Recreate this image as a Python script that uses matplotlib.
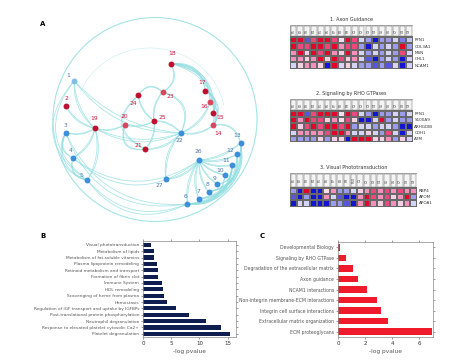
import numpy as np
import matplotlib
matplotlib.use('Agg')
import matplotlib.pyplot as plt
from matplotlib.patches import FancyArrowPatch, Circle, Arc, Rectangle
from matplotlib.colors import LinearSegmentedColormap

# ---------------- data ----------------
# network (panel A)
red_nodes = [2, 14, 15, 16, 17, 18, 19, 20, 21, 23, 24, 25]
light_nodes = [1, 14, 16, 20, 23]
edges = [(1, 19), (2, 19), (3, 19), (4, 19), (5, 19), (1, 5), (3, 4), (3, 5), (4, 5),
         (19, 20), (20, 25), (24, 25), (23, 25), (18, 23), (21, 25), (22, 25),
         (24, 21), (23, 22), (24, 23), (20, 21), (19, 22), (1, 22),
         (18, 17), (18, 16), (18, 15), (18, 14), (17, 15), (16, 14), (17, 14), (15, 14),
         (22, 14), (22, 16), (22, 27), (21, 22), (27, 26), (14, 13),
         (26, 6), (26, 7), (26, 8), (26, 9), (26, 10), (26, 11), (26, 12), (26, 13),
         (6, 13), (7, 13), (8, 12), (9, 11), (6, 10), (7, 11), (8, 13), (6, 12), (6, 11),
         (4, 26), (5, 6), (3, 6)]

# heatmaps
hm_titles = ['1. Axon Guidance', '2. Signaling by RHO GTPases', '3. Visual Phototransduction']
hm_genes = [['PFN1', 'COL3A1', 'MSN', 'CHL1', 'NCAM1'],
            ['PFN1', 'S100A9', 'ARHGDIB', 'CDH1', 'A2M'],
            ['RBP4', 'APOM', 'APOA1']]
hm1 = [[2, 2, -1.5, 1.5, 2, 2, 1.5, 0.3, 2, 1.5, -0.5, -1, -2, -1, -1, -0.5, -1.2, -0.7],
       [2, 1.5, 1.5, 2, 2, 1.5, 2, 1, 1.5, 1.5, -1, -2, -0.5, -1, -0.5, -1, 2, -1],
       [1, 2, 0.5, 2, 1.5, 2, 1, 0.5, 2, 1, -0.5, -1, -0.5, -1, -0.5, -1, 1.5, -0.5],
       [1, 1, 0.5, 1, 2, 0.5, 2, 1.5, 0.5, 1, -0.5, -1.5, -2, -1, -0.5, -1, -2, -0.5],
       [-0.5, 0.5, 1, 1, 0.5, -2, 2, -0.5, 0.5, -0.5, -1, -1, -1.5, -1, -1.5, -0.5, -2, -0.5]]
hm2 = [[2, 2, -1.5, 1.5, 2, 2, 2, 0.3, 2, 1.5, -0.5, -1, -2, -1, -1, -0.5, -1, -0.5],
       [2, 1, 2, 1.5, 1.5, 0.5, 1, 0.3, 1.5, 0.5, -2, -2, -0.5, 2, -1, -0.5, -1, -1],
       [2, 0.5, 1.5, 2, 1.5, 2, 2, 1.5, 2, -1, -0.5, -0.5, -1, -0.5, -0.5, -1, -2, -2],
       [-0.5, 1, 1, 1, 1, 1.5, 2, 2, 1, -0.5, -0.5, 0.5, -0.5, -1, 1.5, -0.5, -2, -0.5],
       [-1, -1, -1, -1, 0.5, -1, 0.5, 0.5, -2, 2, 2, 2, 0.5, 0.5, 1, -1, 0.5, -0.5]]
hm3 = [[-1, -2, 2, -2, -2, 0.3, 1, -1, -1, -0.5, 0.5, 1, 1.5, 1, 1.5, 1, 1.5, 1, 1],
       [-1.5, -2, -1, -2, -2, 1, -0.5, -1.5, -2, -2, 1, 2, 1.5, 1, 1.5, 0.5, 1, 2, -1],
       [-2, -0.5, -0.5, -2, -2, -2, -1, -1, -1.5, -2, 1, 2, 1, 0.5, 1.5, 1, 0.5, 1, -0.5]]

# panel B
b_terms = ['Platelet degranulation', 'Response to elevated platelet cytosolic Ca2+',
           'Neutrophil degranulation', 'Post-translational protein phosphorylation',
           'Regulation of IGF transport and uptake by IGFBPs', 'Hemostasis',
           'Scavenging of heme from plasma', 'HDL remodeling', 'Immune System',
           'Formation of fibrin clot', 'Retinoid metabolism and transport',
           'Plasma lipoprotein remodeling', 'Metabolism of fat-soluble vitamins',
           'Metabolism of lipids', 'Visual phototransduction']
b_vals = [15.5, 13.9, 11.2, 8.1, 5.8, 4.2, 3.7, 3.5, 3.4, 2.7, 2.6, 2.4, 1.85, 1.85, 1.4]

# panel C
c_terms = ['ECM proteoglycans', 'Extracellular matrix organization',
           'Integrin cell surface interactions', 'Non-integrin membrane-ECM interactions',
           'NCAM1 interactions', 'Axon guidance', 'Degradation of the extracellular matrix',
           'Signaling by RHO GTPase', 'Developmental Biology']
c_vals = [6.9, 3.7, 3.15, 2.85, 2.15, 1.45, 1.1, 0.55, 0.1]

# ---------------- layout ----------------
W, H = 474, 364
fig = plt.figure(figsize=(W / 100, H / 100), dpi=100)
plt.rcParams['font.family'] = 'DejaVu Sans'


def px_axes(x0, y0, x1, y1):
    return fig.add_axes([x0 / W, 1 - y1 / H, (x1 - x0) / W, (y1 - y0) / H])


# node layout in pixel space of panel A
pos = {1: (74.3, 80.7), 2: (66, 106), 3: (65.7, 132.7), 4: (72.7, 158), 5: (87.3, 180.3),
       6: (187.3, 204), 7: (198.5, 198.7), 8: (208.5, 192), 9: (217.3, 184.2),
       10: (225.2, 175), 11: (232, 165.2), 12: (237, 154.3), 13: (240.5, 142.7),
       14: (213.3, 125.3), 15: (213.3, 113.3), 16: (210.3, 101.7), 17: (205.3, 90.7),
       18: (171, 63.7), 19: (95, 128.3), 20: (124.7, 124.7), 21: (145.3, 149.3),
       22: (181, 133), 23: (162.7, 92), 24: (138.3, 95.3), 25: (154, 120.7),
       26: (199, 160.2), 27: (166, 179.3)}
lab_off = {1: (-6, -5), 2: (0, -8), 3: (0, -7), 4: (-2, -7), 5: (-6, -5), 6: (-2, -7),
           7: (0, -7), 8: (-1, -7), 9: (-3, -6), 10: (-5, -5), 11: (-6, -5), 12: (-7, -4),
           13: (-3, -7), 14: (5, 8), 15: (7, 4), 16: (-6, 5), 17: (-3, -8), 18: (1, -10),
           19: (-1, -10), 20: (0, -8), 21: (-7, -4), 22: (-2, 8), 23: (8, 5), 24: (-5, 8),
           25: (8, -3), 26: (-1, -9), 27: (-7, 6)}


def curvature(a, b):
    if (a, b) in [(24, 21), (20, 21)]:
        return 0.7
    if (a, b) in [(23, 22), (24, 23)]:
        return -0.6
    if a == 18 or (a in (14, 15, 16, 17) and b in (13, 14, 15)):
        return -0.5
    if a in range(6, 14) and b in range(6, 14):
        return 0.45
    if a == 26:
        return 0.15
    if (a, b) in [(4, 26), (5, 6), (3, 6)]:
        return 0.35
    if (a, b) in [(1, 5), (3, 5), (3, 4), (4, 5)]:
        return 0.5
    return 0.2


axA = px_axes(0, 0, 260, 230)
axA.set_xlim(0, 260)
axA.set_ylim(230, 0)
axA.axis('off')
edge_col = '#8fdde0'
axA.add_patch(Circle((155, 119.5), 102, fill=False, ec=edge_col, lw=0.8, alpha=0.8))
axA.add_patch(Arc((150, 118), 150, 140, theta1=200, theta2=350, ec=edge_col, lw=0.4, alpha=0.5))
for a, b in edges:
    rad = curvature(a, b)
    for k in (0.0, 0.06):
        axA.add_patch(FancyArrowPatch(pos[a], pos[b], connectionstyle=f'arc3,rad={rad + k}',
                                      arrowstyle='-', color=edge_col, lw=0.6, alpha=0.75,
                                      shrinkA=0, shrinkB=0))
for n, (x, y) in pos.items():
    if n in red_nodes:
        fc = '#d9475e' if n in light_nodes else '#c0102f'
        tc = '#c8163c'
    else:
        fc = '#86bde4' if n in light_nodes else '#3c8fd8'
        tc = '#4b74b0'
    axA.scatter([x], [y], s=18, color=fc, zorder=5, linewidths=0)
    dx, dy = lab_off[n]
    axA.text(x + dx, y + dy, str(n), color=tc, fontsize=4.3, ha='center', va='center', zorder=6)

fig.text(43 / W, 1 - 24 / H, 'A', fontsize=5, fontweight='bold', ha='center', va='center')
fig.text(43 / W, 1 - 236 / H, 'B', fontsize=5, fontweight='bold', ha='center', va='center')
fig.text(262 / W, 1 - 236 / H, 'C', fontsize=5, fontweight='bold', ha='center', va='center')

# ---------------- heatmaps ----------------
cmap = LinearSegmentedColormap.from_list('rb', ['#1414d4', '#6c6ce8', '#cacaf5', '#f8f2f8',
                                                '#f7c4de', '#f2609a', '#e2062a'])
hm_boxes = [(290, 25, 412.7, 68.7), (290, 99, 412.7, 142.5), (290, 173, 417, 206.5)]
for hm, genes, title, box in zip([hm1, hm2, hm3], hm_genes, hm_titles, hm_boxes):
    data = np.array(hm)
    nr, nc = data.shape
    x0, y0, x1, y1 = box
    row_h = (x1 - x0) / nc * 0.93
    head = (y1 - y0) / row_h - nr
    ax = px_axes(x0, y0, x1, y1)
    ax.pcolormesh(np.arange(nc + 1), np.arange(nr + 1), data, cmap=cmap, vmin=-2, vmax=2,
                  edgecolors='#686868', linewidth=0.3)
    for j in range(nc):
        ax.add_patch(Rectangle((j + 0.08, -head + 0.1), 0.84, head - 0.2, fc='#f4f4f4',
                               ec='#707070', lw=0.35))
        lab = f'P{j + 1}' if j < nc // 2 + (nc % 2) else f'C{j + 1 - nc // 2 - nc % 2}'
        ax.text(j + 0.5, -head / 2, lab, rotation=90, fontsize=2.3, ha='center', va='center',
                color='#444444')
    ax.add_patch(Rectangle((0, -head), nc, head, fc='none', ec='#707070', lw=0.4))
    ax.set_xlim(0, nc)
    ax.set_ylim(nr, -head)
    ax.axis('off')
    for i, g in enumerate(genes):
        ax.text(nc + 0.25, i + 0.5, g, fontsize=3.0, ha='left', va='center', color='#333333')
    ax.text(nc / 2, -head - 0.9, title, fontsize=3.5, ha='center', va='center', color='#333333')


# ---------------- bar panels ----------------
def bar_panel(ax, terms, vals, color, xmax, ticks, height, fs):
    y = np.arange(len(terms))
    ax.barh(y, vals, height=height, color=color)
    ax.set_yticks(y)
    ax.set_yticklabels(terms, fontsize=fs, color='#333333')
    ax.set_xticks(ticks)
    ax.set_xlim(0, xmax)
    ax.set_ylim(-0.5, len(terms) - 0.5)
    ax.tick_params(axis='both', length=1.5, width=0.4, pad=1.5, colors='#555555',
                   top=True, right=True)
    ax.tick_params(axis='x', labelsize=4, labelcolor='#333333')
    for s in ax.spines.values():
        s.set_color('#888888')
        s.set_linewidth(0.5)
    ax.set_xlabel('-log pvalue', fontsize=4.2, color='#555555', labelpad=2)


axB = px_axes(143.3, 241, 236, 337)
bar_panel(axB, b_terms, b_vals, '#101d4f', 16.5, [0, 5, 10, 15], 0.65, 3.1)
axB.set_ylim(-0.5, 14.6)

axC = px_axes(338.3, 242, 433, 337)
bar_panel(axC, c_terms, c_vals, '#ef1a2c', 7, [0, 2, 4, 6], 0.62, 3.3)

fig.savefig('out.png', dpi=100)
